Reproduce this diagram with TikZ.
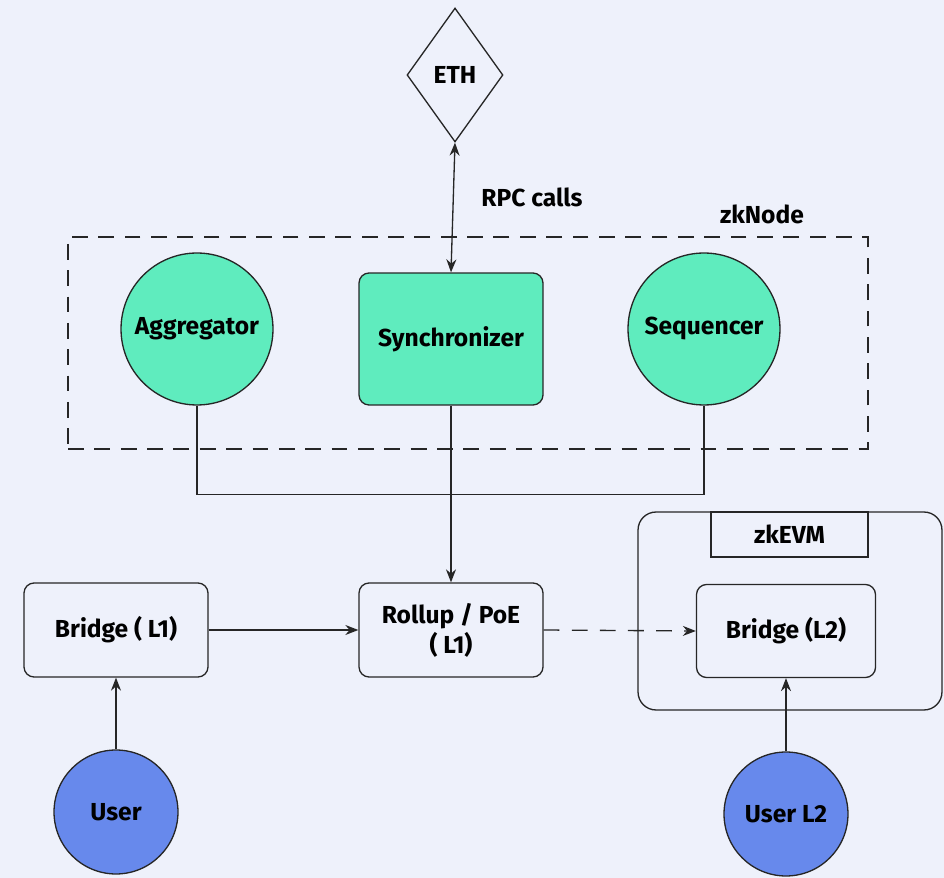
\documentclass[tikz,border=0pt]{standalone}
\usepackage{fontspec}
\setmainfont{Fira Sans}
\usepackage{tikz}
\usetikzlibrary{positioning,arrows.meta,shapes.geometric}
\definecolor{bgcol}{RGB}{238,241,251}
\definecolor{mint}{RGB}{95,236,190}
\definecolor{userblue}{RGB}{103,137,236}

\begin{document}
\begin{tikzpicture}[
          x=0.02cm,y=-0.02cm,
          every node/.style={font=\fontsize{14}{17}\selectfont\bfseries},
          line/.style={draw=black!85,line width=0.75pt},
          arr/.style={line,-{Stealth[length=2.6mm,width=2mm]}},
          box/.style={line,rounded corners=0.2cm,minimum width=3.68cm,minimum height=1.88cm,align=center},
          comp/.style={line,circle,fill=mint,minimum size=3.04cm,inner sep=0pt},
          usr/.style={line,circle,fill=userblue,minimum size=2.48cm,inner sep=0pt},
        ]
        \fill[bgcol] (0,0) rectangle (944,878);
        \useasboundingbox (0,0) rectangle (944,878);
        % zkNode group
        \node[line,dashed,dash pattern=on 9pt off 6pt,minimum width=16cm,minimum height=4.24cm] (zknode) at (468,343) {};
        \node (zklbl) at (762,214) {zkNode};
        \node[line,diamond,minimum width=1.92cm,minimum height=2.68cm,inner sep=0pt] (eth) at (455,75) {ETH};
        \node[comp] (agg) at (197,329) {Aggregator};
        \node[box,fill=mint,minimum height=2.64cm] (sync) at (451,339) {Synchronizer};
        \node[comp] (seq) at (704,329) {Sequencer};
        \draw[line,{Stealth[length=2.6mm,width=2mm]}-{Stealth[length=2.6mm,width=2mm]}] (eth.south) -- (sync.north);
        \node (rpc) at (532,197) {RPC calls};
        % L1 side
        \node[box] (bridge1) at (116,630) {Bridge ( L1)};
        \node[box] (rollup) at (451,630) {Rollup / PoE\\( L1)};
        \node[usr] (user) at (116,812) {User};
        % zkEVM
        \node[line,rounded corners=0.36cm,minimum width=6.08cm,minimum height=3.96cm] (zkevm) at (790,611) {};
        \node[line,minimum width=3.14cm,minimum height=0.9cm] (evmtab) at (789.5,534.5) {zkEVM};
        \node[box,minimum width=3.58cm,minimum height=1.86cm] (bridge2) at (786,631) {Bridge (L2)};
        \node[usr] (user2) at (786,814) {User L2};
        \draw[line] (agg.south) -- ++(0,89) -| (seq.south);
        \draw[arr] (sync.south) -- (rollup.north);
        \draw[arr] (bridge1.east) -- (rollup.west);
        \draw[arr,dashed,dash pattern=on 9pt off 7pt] (rollup.east) -- (bridge2.west);
        \draw[arr] (user.north) -- (bridge1.south);
        \draw[arr] (user2.north) -- (bridge2.south);
      \end{tikzpicture}
\end{document}
